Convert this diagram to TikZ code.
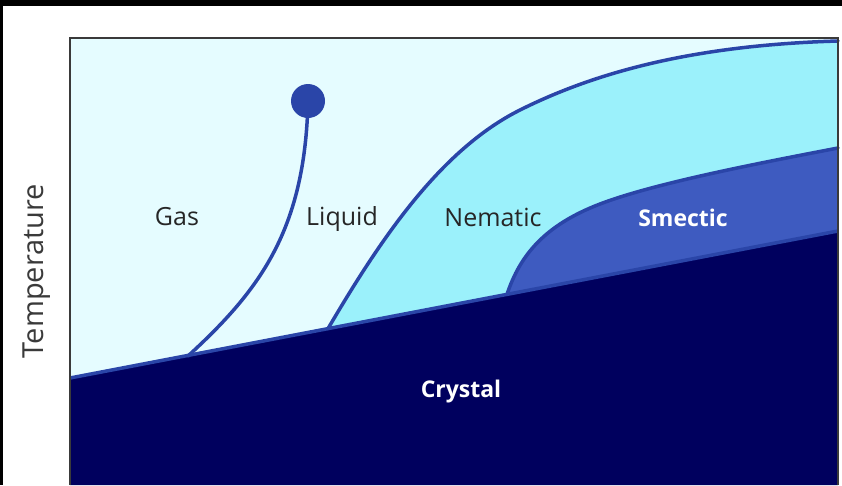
\documentclass[tikz,border=0pt]{standalone}
\usepackage{fontspec}
\newfontfamily\phasefont{Open Sans}
\usetikzlibrary{positioning}
\definecolor{gasBg}{HTML}{E5FCFF}
\definecolor{nemCyan}{HTML}{9BF1FB}
\definecolor{smecBlue}{HTML}{3E5BC0}
\definecolor{crysNavy}{HTML}{00005E}
\definecolor{edgeBlue}{HTML}{2A45A8}
\definecolor{axisGray}{HTML}{3A3A3A}
\definecolor{labelInk}{HTML}{262626}

\begin{document}
\begin{tikzpicture}[x=1pt,y=-1pt,
    boundary/.style={edgeBlue,line width=3.5pt,line cap=round},
    phase/.style={anchor=base,font=\phasefont\fontsize{25}{30}\selectfont,text=labelInk},
    solid phase/.style={phase,text=white,font=\phasefont\bfseries\fontsize{23}{28}\selectfont}]
  \useasboundingbox (0,0) rectangle (842,485);
  \fill[white] (0,0) rectangle (842,485);
  \fill[black] (0,0) rectangle (842,6);
  \fill[black] (0,0) rectangle (3,485);

  % coexistence line with the crystal
  \coordinate (cL) at (70,378);
  \coordinate (cR) at (838,231);
  \coordinate (nemFoot) at (328,328.6);
  \coordinate (smecFoot) at (507,294.4);
  \coordinate (gasFoot) at (188,356);
  \coordinate (crit) at (308,101);

  % regions
  \fill[gasBg] (70,38) rectangle (838,485);
  \fill[nemCyan] (nemFoot) .. controls (380,240) and (440,150) .. (520,110)
      .. controls (600,70) and (700,45) .. (838,41) -- (cR) -- cycle;
  \fill[smecBlue] (smecFoot) .. controls (520,255) and (545,225) .. (600,204)
      .. controls (655,183) and (760,163) .. (838,148) -- (cR) -- cycle;
  \fill[crysNavy] (cL) -- (cR) -- (838,485) -- (70,485) -- cycle;

  % boundaries
  \draw[boundary] (nemFoot) .. controls (380,240) and (440,150) .. (520,110)
      .. controls (600,70) and (700,45) .. (838,41);
  \draw[boundary] (smecFoot) .. controls (520,255) and (545,225) .. (600,204)
      .. controls (655,183) and (760,163) .. (838,148);
  \draw[boundary] (gasFoot) .. controls (260,290) and (305,230) .. (crit);
  \draw[boundary,line cap=butt] (cL) -- (cR);
  \fill[edgeBlue] (crit) circle (17);

  % frame
  \draw[axisGray,line width=1.5pt] (70,485) -- (70,38) -- (838,38) -- (838,485);

  % labels
  \node[phase] (gas) at (177,225) {Gas};
  \node[phase] (liquid) at (342,225) {Liquid};
  \node[phase] (nematic) at (493,226) {Nematic};
  \node[solid phase] (smectic) at (683,226) {Smectic};
  \node[solid phase] (crystal) at (461,397) {Crystal};
  \node[anchor=base,rotate=90,text=axisGray,font=\phasefont\fontsize{29}{34}\selectfont]
      (temp) at (43,271) {Temperature};
\end{tikzpicture}
\end{document}
